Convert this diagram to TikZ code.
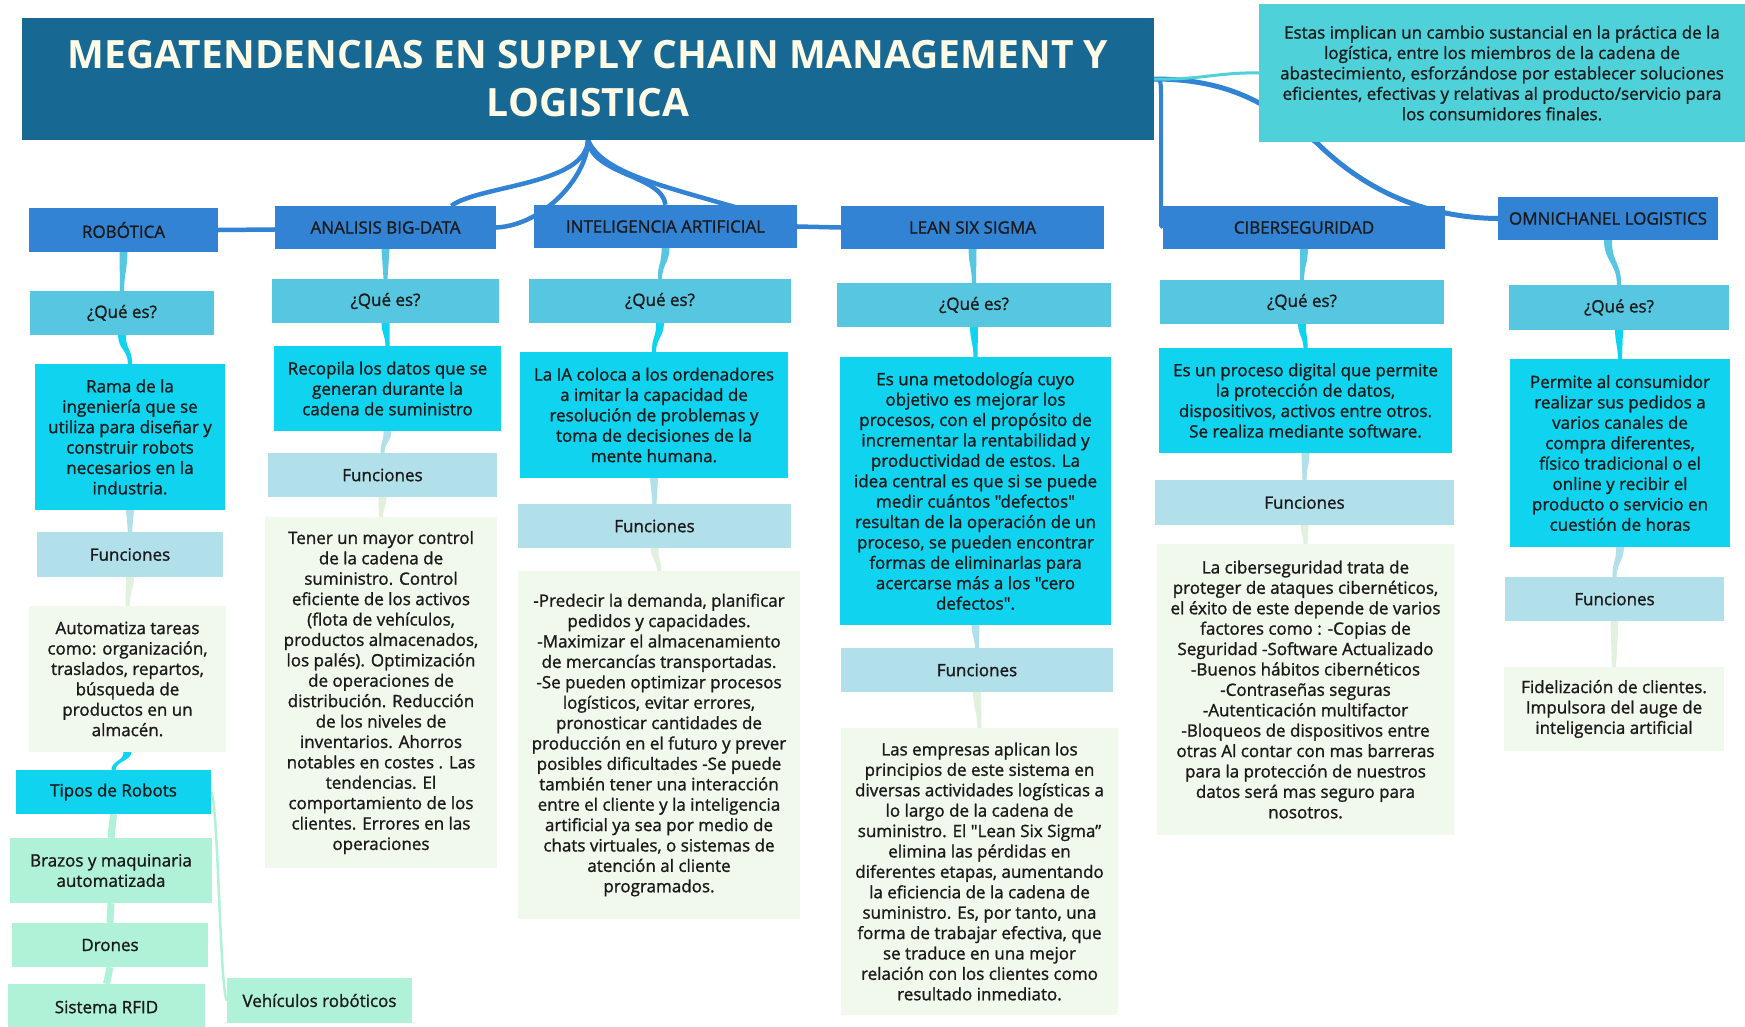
\documentclass[tikz,border=0pt]{standalone}
\usepackage{fontspec}
\setmainfont{Open Sans}[Ligatures=TeXOff,FakeBold=1.2]
\newfontfamily\titlefont{Open Sans}[Ligatures=TeXOff]
\usetikzlibrary{calc}
\pgfdeclarelayer{back}
\pgfdeclarelayer{bg}
\pgfsetlayers{back,bg,main}
\definecolor{titlec}{HTML}{186894}
\definecolor{headc}{HTML}{3283D3}
\definecolor{quec}{HTML}{57C6E0}
\definecolor{defc}{HTML}{10D4EF}
\definecolor{func}{HTML}{B1E0EA}
\definecolor{txtc}{HTML}{F1F8EC}
\definecolor{descc}{HTML}{4FD1D9}
\definecolor{mintc}{HTML}{B0F2D7}
\definecolor{inkc}{HTML}{1A1A1A}
\definecolor{titletxt}{HTML}{FFFBE6}
\definecolor{linkg}{HTML}{E2F1DD}
\newcommand\bodyf{\fontsize{17}{20.4}\selectfont}
\newcommand\headf{\fontsize{17}{20.4}\selectfont}
\newcommand\titlef{\titlefont\fontsize{39}{48}\selectfont\bfseries}
\newcommand\bx[7]{\node[#2, minimum width={#4-#3}, minimum height={#6-#5}] (#1) at ({(#3+#4)/2},{(#5+#6)/2}) {#7};}
\newcommand\tcon[3]{\fill[#1] ($(#2.south)+(-4,0)$) .. controls ($(#2.south)!0.5!(#2.south|-#3.north)+(-3.5,0)$) and ($(#3.north)!0.5!(#3.north|-#2.south)+(-2.5,0)$) .. ($(#3.north)+(-2,0)$) -- ($(#3.north)+(2,0)$) .. controls ($(#3.north)!0.5!(#3.north|-#2.south)+(2.5,0)$) and ($(#2.south)!0.5!(#2.south|-#3.north)+(3.5,0)$) .. ($(#2.south)+(4,0)$) -- cycle;}
\tikzset{
 box/.style={inner sep=0pt, align=center, text=inkc, font=\bodyf},
 titlebox/.style={box, fill=titlec, text=titletxt, font=\titlef},
 headbox/.style={box, fill=headc, font=\headf},
 quebox/.style={box, fill=quec},
 defbox/.style={box, fill=defc},
 funbox/.style={box, fill=func},
 txtbox/.style={box, fill=txtc},
 descbox/.style={box, fill=descc},
 mintbox/.style={box, fill=mintc},
 mainlink/.style={draw=headc, line width=4.5pt},
}
\begin{document}
\begin{tikzpicture}[x=1pt,y=-1pt]
\begin{pgfonlayer}{back}
\fill[white] (0,0) rectangle (1745,1026);
\end{pgfonlayer}
\useasboundingbox (0,0) rectangle (1745,1026);
% title and description
\bx{title}{titlebox}{22}{1154}{18}{140}{MEGATENDENCIAS EN SUPPLY CHAIN MANAGEMENT Y\\LOGISTICA}
\bx{desc}{descbox}{1259}{1745}{4}{142}{Estas implican un cambio sustancial en la práctica de la\\logística, entre los miembros de la cadena de\\abastecimiento, esforzándose por establecer soluciones\\eficientes, efectivas y relativas al producto/servicio para\\los consumidores finales.}
% headers
\bx{rob}{headbox}{29}{218}{208}{252}{ROBÓTICA}
\bx{bd}{headbox}{275}{496}{206}{249}{ANALISIS BIG-DATA}
\bx{ia}{headbox}{534}{797}{205}{248}{INTELIGENCIA ARTIFICIAL}
\bx{lss}{headbox}{841}{1104}{206}{249}{LEAN SIX SIGMA}
\bx{cib}{headbox}{1163}{1445}{206}{249}{CIBERSEGURIDAD}
\bx{omni}{headbox}{1498}{1718}{197}{240}{OMNICHANEL LOGISTICS}
% que es
\bx{robq}{quebox}{30}{214}{291}{335}{¿Qué es?}
\bx{bdq}{quebox}{272}{499}{279}{323}{¿Qué es?}
\bx{iaq}{quebox}{529}{791}{279}{323}{¿Qué es?}
\bx{lssq}{quebox}{837}{1111}{283}{327}{¿Qué es?}
\bx{cibq}{quebox}{1160}{1444}{280}{324}{¿Qué es?}
\bx{omniq}{quebox}{1509}{1729}{285}{330}{¿Qué es?}
% definitions
\bx{robd}{defbox}{35}{225}{364}{510}{Rama de la\\ingeniería que se\\utiliza para diseñar y\\construir robots\\necesarios en la\\industria.}
\bx{bdd}{defbox}{274}{501}{346}{431}{Recopila los datos que se\\generan durante la\\cadena de suministro}
\bx{iad}{defbox}{520}{788}{352}{478}{La IA coloca a los ordenadores\\a imitar la capacidad de\\resolución de problemas y\\toma de decisiones de la\\mente humana.}
\bx{lssd}{defbox}{840}{1111}{357}{625}{Es una metodología cuyo\\objetivo es mejorar los\\procesos, con el propósito de\\incrementar la rentabilidad y\\productividad de estos. La\\idea central es que si se puede\\medir cuántos "defectos"\\resultan de la operación de un\\proceso, se pueden encontrar\\formas de eliminarlas para\\acercarse más a los "cero\\defectos".}
\bx{cibd}{defbox}{1159}{1452}{348}{453}{Es un proceso digital que permite\\la protección de datos,\\dispositivos, activos entre otros.\\Se realiza mediante software.}
\bx{omnid}{defbox}{1510}{1730}{359}{547}{Permite al consumidor\\realizar sus pedidos a\\varios canales de\\compra diferentes,\\físico tradicional o el\\online y recibir el\\producto o servicio en\\cuestión de horas}
% funciones
\bx{robf}{funbox}{37}{223}{532}{577}{Funciones}
\bx{bdf}{funbox}{268}{497}{453}{497}{Funciones}
\bx{iaf}{funbox}{518}{791}{504}{548}{Funciones}
\bx{lssf}{funbox}{841}{1113}{648}{692}{Funciones}
\bx{cibf}{funbox}{1155}{1454}{480}{525}{Funciones}
\bx{omnif}{funbox}{1505}{1724}{577}{621}{Funciones}
% function texts
\bx{robt}{txtbox}{29}{226}{606}{752}{Automatiza tareas\\como: organización,\\traslados, repartos,\\búsqueda de\\productos en un\\almacén.}
\bx{bdt}{txtbox}{265}{497}{517}{868}{Tener un mayor control\\de la cadena de\\suministro. Control\\eficiente de los activos\\(flota de vehículos,\\productos almacenados,\\los palés). Optimización\\de operaciones de\\distribución. Reducción\\de los niveles de\\inventarios. Ahorros\\notables en costes . Las\\tendencias. El\\comportamiento de los\\clientes. Errores en las\\operaciones}
\bx{iat}{txtbox}{518}{800}{571}{919}{-Predecir la demanda, planificar\\pedidos y capacidades.\\-Maximizar el almacenamiento\\de mercancías transportadas.\\-Se pueden optimizar procesos\\logísticos, evitar errores,\\pronosticar cantidades de\\producción en el futuro y prever\\posibles dificultades -Se puede\\también tener una interacción\\entre el cliente y la inteligencia\\artificial ya sea por medio de\\chats virtuales, o sistemas de\\atención al cliente\\programados.}
\bx{lsst}{txtbox}{841}{1118}{728}{1015}{Las empresas aplican los\\principios de este sistema en\\diversas actividades logísticas a\\lo largo de la cadena de\\suministro. El "Lean Six Sigma”\\elimina las pérdidas en\\diferentes etapas, aumentando\\la eficiencia de la cadena de\\suministro. Es, por tanto, una\\forma de trabajar efectiva, que\\se traduce en una mejor\\relación con los clientes como\\resultado inmediato.}
\bx{cibt}{txtbox}{1157}{1454}{544}{835}{La ciberseguridad trata de\\proteger de ataques cibernéticos,\\el éxito de este depende de varios\\factores como : -Copias de\\Seguridad -Software Actualizado\\-Buenos hábitos cibernéticos\\-Contraseñas seguras\\-Autenticación multifactor\\-Bloqueos de dispositivos entre\\otras Al contar con mas barreras\\para la protección de nuestros\\datos será mas seguro para\\nosotros.}
\bx{omnit}{txtbox}{1504}{1724}{667}{751}{Fidelización de clientes.\\Impulsora del auge de\\inteligencia artificial}
% robot types
\bx{tipos}{defbox}{16}{211}{770}{814}{Tipos de Robots}
\bx{brazos}{mintbox}{10}{212}{838}{903}{Brazos y maquinaria\\automatizada}
\bx{drones}{mintbox}{12}{208}{923}{967}{Drones}
\bx{rfid}{mintbox}{8}{205}{984}{1030}{Sistema RFID}
\bx{veh}{mintbox}{227}{412}{978}{1023}{Vehículos robóticos}
\begin{pgfonlayer}{bg}
% main connectors
\draw[mainlink] (title.south) .. controls (588,175) and (545,225) .. (bd.east) -- (rob.east);
\draw[mainlink] (title.south) .. controls (586,185) and (480,185) .. ($(bd.north east)+(-45,0)$);
\draw[mainlink] (title.south) .. controls (592,175) and (662,175) .. (ia.north);
\draw[mainlink] (title.south) .. controls (605,180) and (690,190) .. (ia.east) -- (lss.west);
\draw[mainlink, line width=5pt] (title.east) .. controls (1230,79) and (1270,105) .. (1317,143) .. controls (1375,200) and (1440,218) .. (omni.west);
\draw[mainlink, line width=4pt] (title.east) .. controls (1161,79) .. (1161,100) -- (1161,215) .. controls (1161,227) .. (cib.west);
\draw[descc, line width=3pt] (title.east) .. controls (1200,80) and (1220,72) .. (desc.west);
% branch connectors
\tcon{quec}{rob}{robq}\tcon{defc}{robq}{robd}\tcon{func}{robd}{robf}\tcon{linkg}{robf}{robt}
\tcon{quec}{bd}{bdq}\tcon{defc}{bdq}{bdd}\tcon{func}{bdd}{bdf}\tcon{linkg}{bdf}{bdt}
\tcon{quec}{ia}{iaq}\tcon{defc}{iaq}{iad}\tcon{func}{iad}{iaf}\tcon{linkg}{iaf}{iat}
\tcon{quec}{lss}{lssq}\tcon{defc}{lssq}{lssd}\tcon{func}{lssd}{lssf}\tcon{linkg}{lssf}{lsst}
\tcon{quec}{cib}{cibq}\tcon{defc}{cibq}{cibd}\tcon{func}{cibd}{cibf}\tcon{linkg}{cibf}{cibt}
\tcon{quec}{omni}{omniq}\tcon{defc}{omniq}{omnid}\tcon{func}{omnid}{omnif}\tcon{linkg}{omnif}{omnit}
\tcon{defc}{robt}{tipos}
\draw[mintc, line width=7pt] (tipos.south) -- (brazos.north);
\draw[mintc, line width=7pt] (brazos.south) -- (drones.north);
\draw[mintc, line width=7pt] (drones.south) -- (rfid.north);
\draw[mintc, line width=2.5pt] (tipos.east) .. controls (218,800) and (220,990) .. (veh.west);
\end{pgfonlayer}
\end{tikzpicture}
\end{document}
